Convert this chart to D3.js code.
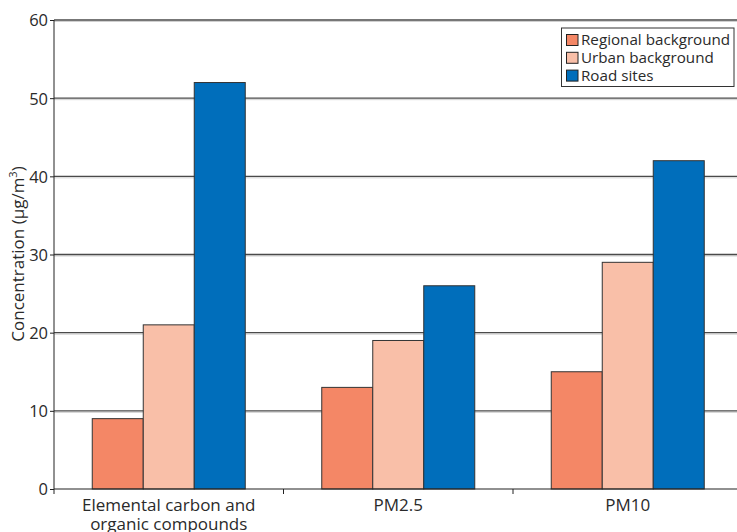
<!DOCTYPE html>
<html><head><meta charset="utf-8">
<script src="https://cdn.jsdelivr.net/npm/d3@7"></script>
<style>body{margin:0;background:#fff}svg{display:block}text{font-family:"Open Sans",sans-serif;fill:#2a2a2a}</style>
</head><body>
<script>
const categories = [["Elemental carbon and","organic compounds"],["PM2.5"],["PM10"]];
const seriesNames = ["Regional background","Urban background","Road sites"];
const regional = [9, 13, 15];
const urban = [21, 19, 29];
const road = [52, 26, 42];
const colors = ["#F48766","#F9BFA8","#006EBB"];
const yTicks = [0,10,20,30,40,50,60];

(function(){
const W=737,H=532;
const svg=d3.select("body").append("svg").attr("width",W).attr("height",H);
const mLeft=54,mRight=742.5,mTop=20,mBottom=489;
const x=d3.scaleBand().domain(d3.range(categories.length)).range([mLeft,mRight]);
const xs=d3.scaleBand().domain(d3.range(3)).range([0,x.bandwidth()]).paddingOuter(0.75).paddingInner(0);
const y=d3.scaleLinear().domain([0,60]).range([mBottom,mTop]);

// gridlines
const g=svg.append("g");
yTicks.filter(d=>d>0).forEach(t=>{
  g.append("line").attr("x1",mLeft).attr("x2",W).attr("y1",y(t)+1.5).attr("y2",y(t)+1.5).attr("stroke","#d0d0d0").attr("stroke-width",1);
  g.append("line").attr("x1",mLeft).attr("x2",W).attr("y1",y(t)).attr("y2",y(t)).attr("stroke","#4a4a4a").attr("stroke-width",1.3);
});

const series=[regional,urban,road];
series.forEach((vals,si)=>{
  svg.append("g").selectAll("rect").data(vals).join("rect")
    .attr("x",(d,i)=>x(i)+xs(si)).attr("width",xs.bandwidth())
    .attr("y",d=>y(d)).attr("height",d=>mBottom-y(d))
    .attr("fill",colors[si]).attr("stroke","#333").attr("stroke-width",1);
});

// y axis
const ya=svg.append("g").attr("transform",`translate(${mLeft},0)`)
  .call(d3.axisLeft(y).tickValues(yTicks).tickSize(4).tickPadding(2));
ya.select(".domain").attr("stroke","#222").attr("d",`M0,${mTop}V${mBottom}`);
ya.selectAll(".tick line").attr("stroke","#222");
ya.selectAll("text").attr("font-size",16.5).attr("dy","0.36em").style("fill","#2a2a2a");

// x axis
const xa=svg.append("g");
xa.append("line").attr("x1",mLeft).attr("x2",W).attr("y1",mBottom).attr("y2",mBottom).attr("stroke","#222").attr("stroke-width",1.2);
d3.range(categories.length+1).forEach(i=>{
  const xx = i<categories.length? x(i): mRight;
  xa.append("line").attr("x1",xx).attr("x2",xx).attr("y1",mBottom).attr("y2",mBottom+5).attr("stroke","#222");
});
categories.forEach((lines,i)=>{
  const t=xa.append("text").attr("text-anchor","middle").attr("font-size",17).attr("x",x(i)+x.bandwidth()/2).attr("y",511);
  lines.forEach((l,j)=>t.append("tspan").attr("x",x(i)+x.bandwidth()/2).attr("dy",j?18.5:0).text(l));
});

// y title
svg.append("text").attr("transform","translate(24,254) rotate(-90)").attr("text-anchor","middle").attr("font-size",17)
  .html('Concentration (µg/m<tspan baseline-shift="super" font-size="11">3</tspan>)');

// legend
const lg=svg.append("g");
lg.append("rect").attr("x",561.5).attr("y",28).attr("width",172.5).attr("height",58.5).attr("fill","#fff").attr("stroke","#333");
seriesNames.forEach((n,i)=>{
  const yy=40+i*17.8;
  lg.append("rect").attr("x",566.5).attr("y",yy-5.5).attr("width",11.5).attr("height",11).attr("fill",colors[i]).attr("stroke","#222");
  lg.append("text").attr("x",581).attr("y",yy).attr("dy","0.35em").attr("font-size",15.2).text(n);
});
})();
</script>
</body></html>
